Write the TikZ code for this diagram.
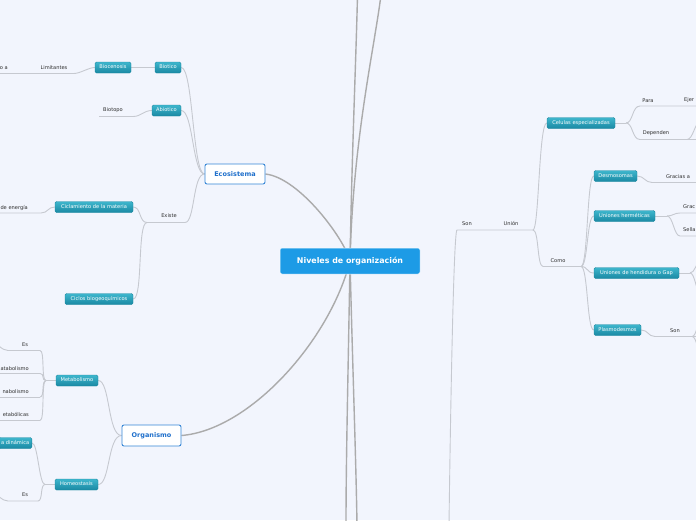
\documentclass[tikz,border=0pt]{standalone}
\usepackage{fontspec}
\setmainfont{DejaVu Sans}
\usetikzlibrary{backgrounds}
\definecolor{bg}{HTML}{F2F5FD}
\definecolor{tealT}{HTML}{3EB6CD}
\definecolor{tealD}{HTML}{1A89A3}
\definecolor{tealB}{HTML}{1C88A0}
\definecolor{labc}{HTML}{2E2E2E}
\definecolor{mainB}{HTML}{3586D6}
\definecolor{mainT}{HTML}{1E6FCB}
\definecolor{rootC}{HTML}{1D9BE6}
\definecolor{connC}{HTML}{C6C9D0}
\definecolor{rconnC}{HTML}{ABABAB}
\tikzset{
 tbox/.style={draw=tealB, line width=0.4pt, top color=tealT, bottom color=tealD, rounded corners=1.5pt, text=white, font=\fontsize{5.1}{6}\selectfont, minimum height=11pt, inner xsep=2.5pt, inner ysep=0pt, text height=3.7pt, text depth=1pt},
 lbl/.style={text=labc, font=\fontsize{5.1}{6}\selectfont, inner sep=0pt},
 mainbox/.style={draw=mainB, line width=0.9pt, fill=white, rounded corners=2pt, text=mainT, font=\fontsize{6.5}{7}\selectfont\bfseries, minimum height=20pt},
 rootn/.style={fill=rootC, draw=white, line width=0.5pt, rounded corners=2pt, text=white, font=\fontsize{7.9}{9}\selectfont\bfseries, minimum width=140pt, minimum height=26pt},
 conn/.style={draw=connC, line width=0.9pt},
 rconn/.style={draw=rconnC, line width=1.4pt},
}
\begin{document}
\begin{tikzpicture}[x=1pt,y=-1pt]
\useasboundingbox (0,0) rectangle (696,520);
\begin{scope}[on background layer]
\fill[bg] (0,0) rectangle (696,520);
\end{scope}

% ---- nodes
\node[rootn] (root) at (350,261) {Niveles de organización};
\node[mainbox, minimum width=60pt] (eco) at (235,174) {Ecosistema};
\node[mainbox, minimum width=59pt, minimum height=21pt] (org) at (151.5,435.5) {Organismo};

\node[tbox, minimum width=26pt] (biot) at (168,67.5) {Biotico};
\node[tbox, minimum width=36pt] (bioc) at (113,67.5) {Biocenosis};
\node[lbl] (lim) at (54,68) {Limitantes};
\node[lbl, anchor=east] (oa) at (8,68) {o a};
\node[tbox, minimum width=29pt] (abio) at (166.5,110.5) {Abiotico};
\node[lbl] (biotopo) at (113,110) {Biotopo};
\node[lbl] (existe) at (169,215.5) {Existe};
\node[tbox, minimum width=78pt] (cicl) at (94,207) {Ciclamiento de la materia};
\node[lbl, anchor=east] (energ) at (28,207.5) {de energía};
\node[tbox, minimum width=68pt] (ciclos) at (99,299) {Ciclos biogeoquímicos};
\node[tbox, minimum width=42pt] (metab) at (77,380.5) {Metabolismo};
\node[tbox, minimum width=43pt] (homeo) at (76.5,484.5) {Homeostasis};
\node[lbl] (es1) at (25,345) {Es};
\node[lbl, anchor=east] (cata) at (29,368.5) {atabolismo};
\node[lbl, anchor=east] (ana) at (29,391.5) {nabolismo};
\node[lbl, anchor=east] (etab) at (29,414.5) {etabólicas};
\node[tbox, anchor=east] (dinam) at (32,443) {a dinámica};
\node[lbl] (es2) at (25,494.5) {Es};

\node[lbl] (son1) at (467,224) {Son};
\node[lbl] (union) at (511,223.5) {Unión};
\node[tbox, minimum width=68pt] (celulas) at (581,123) {Celulas especializadas};
\node[lbl] (para) at (648,100.5) {Para};
\node[lbl, anchor=west] (ejer) at (684,100.5) {Ejer};
\node[lbl] (dep) at (656,133) {Dependen};
\node[lbl] (como) at (558,260.5) {Como};
\node[tbox, minimum width=43pt] (desmo) at (615.5,176) {Desmosomas};
\node[lbl] (grac1) at (678,176.5) {Gracias a};
\node[tbox, minimum width=61pt] (herm) at (624.5,216) {Uniones herméticas};
\node[lbl, anchor=west] (grac2) at (683,207) {Grac};
\node[lbl, anchor=west] (sella) at (683,230) {Sella};
\node[tbox, minimum width=85pt] (gap) at (636.5,273) {Uniones de hendidura o Gap};
\node[tbox, minimum width=47pt] (plasmo) at (617.5,330) {Plasmodesmos};
\node[lbl] (son2) at (675,330.5) {Son};

% ---- coordinates
\coordinate (limL) at (-5,73.5); \coordinate (limR) at (74,73.5);
\coordinate (btL) at (99,116.5); \coordinate (btR) at (133,116.5);
\coordinate (exL) at (147,222.5); \coordinate (exR) at (185,222.5);
\coordinate (enL) at (-5,213); \coordinate (enR) at (41,213);
\coordinate (mj) at (46,380.5);
\coordinate (e1L) at (8,350.5); \coordinate (e1R) at (40,350.5); \coordinate (e1X) at (-8,339);
\coordinate (caL) at (-5,373.5); \coordinate (caR) at (40,373.5);
\coordinate (anL) at (-5,397); \coordinate (anR) at (40,397);
\coordinate (etL) at (-5,420.5); \coordinate (etR) at (40,420.5);
\coordinate (hj) at (45,484.5);
\coordinate (e2L) at (8,501); \coordinate (e2R) at (38,501); \coordinate (e2X) at (-8,490);
\coordinate (suL) at (457,230); \coordinate (suR) at (533,230); \coordinate (sonB) at (449,525);
\coordinate (coL) at (543,266.5); \coordinate (coR) at (581,266.5);
\coordinate (cj) at (626,123);
\coordinate (paL) at (640,106); \coordinate (paR) at (700,106);
\coordinate (deL) at (640,139.5); \coordinate (deJ) at (687,139.5); \coordinate (deR) at (700,139.5); \coordinate (deU) at (700,122);
\coordinate (grL) at (652,182.5); \coordinate (grR) at (700,182.5);
\coordinate (hmj) at (667,216);
\coordinate (g2L) at (680,213); \coordinate (g2R) at (700,213);
\coordinate (slL) at (680,236); \coordinate (slR) at (700,236);
\coordinate (gpj) at (690,273); \coordinate (gpU) at (700,262); \coordinate (gpD) at (700,292);
\coordinate (snL) at (655,336.5); \coordinate (snJ) at (692,336.5); \coordinate (snR) at (700,336.5);
\coordinate (snU) at (700,324); \coordinate (snD) at (700,349);
\coordinate (t1) at (357.5,-5); \coordinate (t2) at (381,-5);
\coordinate (b1) at (346,525); \coordinate (b2) at (357,525);

% ---- connectors
\begin{scope}[on background layer]
\draw[rconn] (eco.east) .. controls (300,178) and (345,240) .. (root.center);
\draw[rconn] (org.east) .. controls (250,430) and (330,340) .. (root.center);
\draw[rconn] (root.center) .. controls (352,150) and (356,60) .. (t1);
\draw[rconn] (root.center) .. controls (353,140) and (374,50) .. (t2);
\draw[rconn] (root.center) .. controls (348,380) and (346,460) .. (b1);
\draw[rconn] (root.center) .. controls (353,380) and (356,460) .. (b2);

\draw[conn] (limL) -- (limR) .. controls +(6,0) and +(-6,0) .. (bioc.west);
\draw[conn] (bioc.east) -- (biot.west);
\draw[conn] (btL) -- (btR) .. controls +(8,0) and +(-8,0) .. (abio.west);
\draw[conn] (eco.west) .. controls +(-12,0) and +(12,0) .. (biot.east);
\draw[conn] (eco.west) .. controls +(-12,0) and +(12,0) .. (abio.east);
\draw[conn] (eco.west) .. controls +(-12,0) and +(10,0) .. (exR);
\draw[conn] (exL) -- (exR);
\draw[conn] (exL) .. controls +(-8,0) and +(8,0) .. (cicl.east);
\draw[conn] (exL) .. controls +(-10,0) and +(10,0) .. (ciclos.east);
\draw[conn] (enL) -- (enR) .. controls +(7,0) and +(-7,0) .. (cicl.west);

\draw[conn] (org.west) .. controls +(-14,0) and +(12,0) .. (metab.east);
\draw[conn] (org.west) .. controls +(-14,0) and +(12,0) .. (homeo.east);
\draw[conn] (metab.west) -- (mj);
\draw[conn] (mj) .. controls +(-5,0) and +(5,0) .. (e1R);
\draw[conn] (mj) .. controls +(-5,0) and +(5,0) .. (caR);
\draw[conn] (mj) .. controls +(-5,0) and +(5,0) .. (anR);
\draw[conn] (mj) .. controls +(-5,0) and +(5,0) .. (etR);
\draw[conn] (e1X) .. controls +(4,4) and +(-6,0) .. (e1L) -- (e1R);
\draw[conn] (caL) -- (caR);
\draw[conn] (anL) -- (anR);
\draw[conn] (etL) -- (etR);
\draw[conn] (homeo.west) -- (hj);
\draw[conn] (hj) .. controls +(-6,0) and +(6,0) .. (dinam.east);
\draw[conn] (hj) .. controls +(-5,0) and +(5,0) .. (e2R);
\draw[conn] (e2X) .. controls +(4,4) and +(-6,0) .. (e2L) -- (e2R);

\draw[conn] (suR) -- (suL) .. controls +(-4,0) and +(0.5,-40) .. (sonB);
\draw[conn] (suR) .. controls +(6,0) and +(-8,0) .. (celulas.west);
\draw[conn] (suR) .. controls +(6,0) and +(-6,0) .. (coL);
\draw[conn] (coL) -- (coR);
\draw[conn] (coR) .. controls +(7,0) and +(-7,0) .. (desmo.west);
\draw[conn] (coR) .. controls +(7,0) and +(-7,0) .. (herm.west);
\draw[conn] (coR) .. controls +(7,0) and +(-7,0) .. (gap.west);
\draw[conn] (coR) .. controls +(7,0) and +(-7,0) .. (plasmo.west);
\draw[conn] (celulas.east) -- (cj);
\draw[conn] (cj) .. controls +(7,0) and +(-8,0) .. (paL) -- (paR);
\draw[conn] (cj) .. controls +(7,0) and +(-8,0) .. (deL) -- (deR);
\draw[conn] (deJ) .. controls +(6,0) and +(-5,0) .. (deU);
\draw[conn] (desmo.east) .. controls +(7,0) and +(-7,0) .. (grL) -- (grR);
\draw[conn] (herm.east) -- (hmj);
\draw[conn] (hmj) .. controls +(6,0) and +(-6,0) .. (g2L) -- (g2R);
\draw[conn] (hmj) .. controls +(6,0) and +(-6,0) .. (slL) -- (slR);
\draw[conn] (gap.east) -- (gpj);
\draw[conn] (gpj) .. controls +(5,0) and +(-4,0) .. (gpU);
\draw[conn] (gpj) .. controls +(5,0) and +(-4,0) .. (gpD);
\draw[conn] (plasmo.east) .. controls +(7,0) and +(-7,0) .. (snL) -- (snR);
\draw[conn] (snJ) .. controls +(4,0) and +(-3,0) .. (snU);
\draw[conn] (snJ) .. controls +(4,0) and +(-3,0) .. (snD);
\end{scope}
\end{tikzpicture}
\end{document}
